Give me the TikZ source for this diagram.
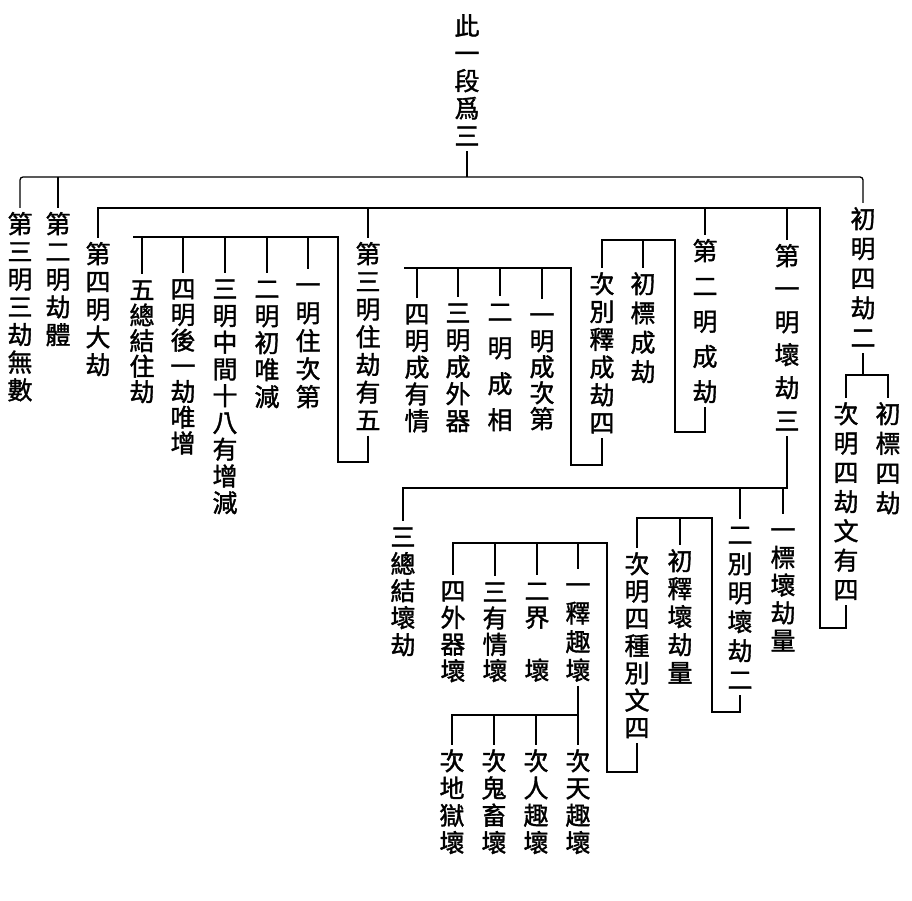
\documentclass[tikz,border=0pt]{standalone}
\usepackage{fontspec}
\newfontfamily\cjk[FakeBold=1.4]{Noto Sans CJK TC}
\newcommand\vstr{\rule[-3pt]{0pt}{25pt}}
\begin{document}
\begin{tikzpicture}[x=1pt,y=-1pt,
  col/.style={font=\cjk\fontsize{25}{#1}\selectfont, align=center, inner sep=0pt, anchor=north},
  kline/.style={line width=1.3pt}]
\fill[white] (0,0) rectangle (912,901);
\useasboundingbox (0,0) rectangle (912,901);

% ---- text columns ----
\node[col=27.5] (r) at (467,13) {\vstr 此\\一\\段\\爲\\三\vstr};
\node[col=29.7] (a1) at (863,206) {\vstr 初\\明\\四\\劫\\二\vstr};
\node[col=27.75] (a2) at (58,211) {\vstr 第\\二\\明\\劫\\體\vstr};
\node[col=27.7] (a3) at (20,211) {\vstr 第\\三\\明\\三\\劫\\無\\數\vstr};
\node[col=29.7] (b1) at (888,401) {\vstr 初\\標\\四\\劫\vstr};
\node[col=29.3] (b2) at (846,401) {\vstr 次\\明\\四\\劫\\文\\有\\四\vstr};
\node[col=33] (c1) at (787,243) {\vstr 第\\一\\明\\壞\\劫\\三\vstr};
\node[col=35.25] (c2) at (705,238) {\vstr 第\\二\\明\\成\\劫\vstr};
\node[col=27.7] (c3) at (368,241) {\vstr 第\\三\\明\\住\\劫\\有\\五\vstr};
\node[col=27.75] (c4) at (98,241) {\vstr 第\\四\\明\\大\\劫\vstr};
\node[col=29.3] (d1) at (643,271) {\vstr 初\\標\\成\\劫\vstr};
\node[col=27.8] (d2) at (602,271) {\vstr 次\\別\\釋\\成\\劫\\四\vstr};
\node[col=26] (e1) at (542,302) {\vstr 一\\明\\成\\次\\第\vstr};
\node[col=36] (e2) at (500,299) {\vstr 二\\明\\成\\相\vstr};
\node[col=27] (e3) at (458,300) {\vstr 三\\明\\成\\外\\器\vstr};
\node[col=26.75] (e4) at (417,301) {\vstr 四\\明\\成\\有\\情\vstr};
\node[col=28] (f1) at (308,272) {\vstr 一\\明\\住\\次\\第\vstr};
\node[col=27] (f2) at (267,276) {\vstr 二\\明\\初\\唯\\減\vstr};
\node[col=26.75] (f3) at (225,276) {\vstr 三\\明\\中\\間\\十\\八\\有\\增\\減\vstr};
\node[col=25.7] (f4) at (183,276) {\vstr 四\\明\\後\\一\\劫\\唯\\增\vstr};
\node[col=25.5] (f5) at (142,277) {\vstr 五\\總\\結\\住\\劫\vstr};
\node[col=27.7] (g1) at (783,517) {\vstr 一\\標\\壞\\劫\\量\vstr};
\node[col=29] (g2) at (740,522) {\vstr 二\\別\\明\\壞\\劫\\二\vstr};
\node[col=27] (g3) at (403,524) {\vstr 三\\總\\結\\壞\\劫\vstr};
\node[col=28] (h1) at (680,548) {\vstr 初\\釋\\壞\\劫\\量\vstr};
\node[col=27.3] (h2) at (637,551) {\vstr 次\\明\\四\\種\\別\\文\\四\vstr};
\node[col=28.5] (i1) at (578,572) {\vstr 一\\釋\\趣\\壞\vstr};
\node[col=26.5] (i2) at (537,578) {\vstr 二\\界\\ \phantom{壞}\\壞\vstr};
\node[col=26.3] (i3) at (495,579) {\vstr 三\\有\\情\\壞\vstr};
\node[col=26.7] (i4) at (453,578) {\vstr 四\\外\\器\\壞\vstr};
\node[col=27.3] (j1) at (578,748) {\vstr 次\\天\\趣\\壞\vstr};
\node[col=27.3] (j2) at (536,748) {\vstr 次\\人\\趣\\壞\vstr};
\node[col=27.3] (j3) at (494,748) {\vstr 次\\鬼\\畜\\壞\vstr};
\node[col=27.3] (j4) at (452,748) {\vstr 次\\地\\獄\\壞\vstr};

% ---- bar levels and bracket corners ----
\coordinate (L0) at (0,177);
\coordinate (Lb) at (0,375);
\coordinate (k1b) at (820,628);
\coordinate (k1t) at (820,208);
\coordinate (L4) at (0,488);
\coordinate (k2b) at (675,432);
\coordinate (k2t) at (675,240);
\coordinate (k3b) at (571,465);
\coordinate (k3t) at (571,268);
\coordinate (k3e) at (404,268);
\coordinate (k4b) at (338,462);
\coordinate (k4t) at (338,237);
\coordinate (k4e) at (133,237);
\coordinate (k5b) at (712,712);
\coordinate (k5t) at (712,518);
\coordinate (k6b) at (607,772);
\coordinate (k6t) at (607,543);
\coordinate (L7) at (0,715);

% ---- connectors ----
\draw[kline] ([yshift=-3pt]r.south) -- (r.south |- L0);
\draw[kline, rounded corners=3pt] ([yshift=3pt]a3.north) -- (a3.north |- L0) -- (a1.north |- L0) -- ([yshift=3pt]a1.north);
\draw[kline] (a2.north |- L0) -- ([yshift=3pt]a2.north);

\draw[kline] ([yshift=-3pt]a1.south) -- (a1.south |- Lb);
\draw[kline] ([yshift=3pt]b2.north) -- (b2.north |- Lb) -- (b1.north |- Lb) -- ([yshift=3pt]b1.north);

\draw[kline] ([yshift=-3pt]b2.south) |- (k1b) -- (k1t) -- (c4.north |- k1t) -- ([yshift=3pt]c4.north);
\foreach \n in {c1,c2,c3} \draw[kline] (\n.north |- k1t) -- ([yshift=3pt]\n.north);

\draw[kline] ([yshift=-3pt]c1.south) |- (g3.north |- L4) -- ([yshift=3pt]g3.north);
\foreach \n in {g1,g2} \draw[kline] (\n.north |- L4) -- ([yshift=3pt]\n.north);

\draw[kline] ([yshift=-3pt]c2.south) |- (k2b) -- (k2t) -- (d2.north |- k2t) -- ([yshift=3pt]d2.north);
\draw[kline] (d1.north |- k2t) -- ([yshift=3pt]d1.north);

\draw[kline] ([yshift=-3pt]d2.south) |- (k3b) -- (k3t) -- (k3e);
\foreach \n in {e1,e2,e3,e4} \draw[kline] (\n.north |- k3t) -- ([yshift=3pt]\n.north);

\draw[kline] ([yshift=-3pt]c3.south) |- (k4b) -- (k4t) -- (k4e);
\foreach \n in {f1,f2,f3,f4,f5} \draw[kline] (\n.north |- k4t) -- ([yshift=3pt]\n.north);

\draw[kline] ([yshift=-3pt]g2.south) |- (k5b) -- (k5t) -- (h2.north |- k5t) -- ([yshift=3pt]h2.north);
\draw[kline] (h1.north |- k5t) -- ([yshift=3pt]h1.north);

\draw[kline] ([yshift=-3pt]h2.south) |- (k6b) -- (k6t) -- (i4.north |- k6t) -- ([yshift=3pt]i4.north);
\foreach \n in {i1,i2,i3} \draw[kline] (\n.north |- k6t) -- ([yshift=3pt]\n.north);

\draw[kline] ([yshift=-3pt]i1.south) -- ([yshift=3pt]j1.north);
\draw[kline] (i1.south |- L7) -- (j4.north |- L7) -- ([yshift=3pt]j4.north);
\foreach \n in {j2,j3} \draw[kline] (\n.north |- L7) -- ([yshift=3pt]\n.north);
\end{tikzpicture}
\end{document}
